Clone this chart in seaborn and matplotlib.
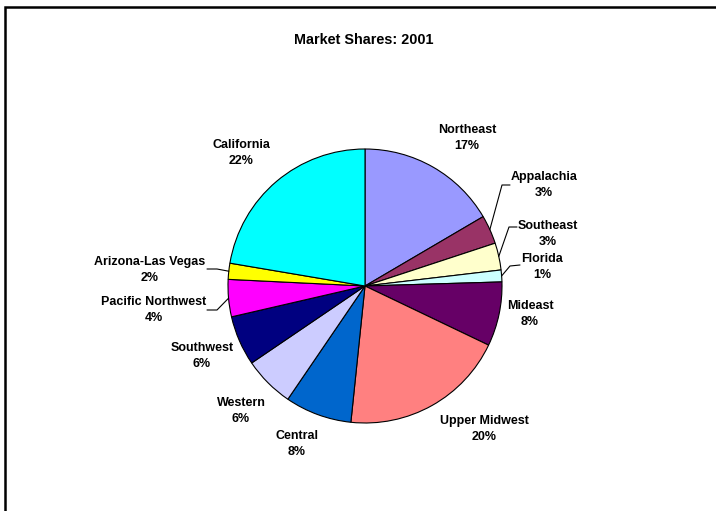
import numpy as np
import matplotlib
matplotlib.use("Agg")
import matplotlib.pyplot as plt
from matplotlib.patches import Rectangle
import seaborn as sns

sns.set_style("white")
plt.rcParams["font.family"] = ["Liberation Sans", "DejaVu Sans"]
plt.rcParams["text.color"] = "black"

regions = ["Northeast", "Appalachia", "Southeast", "Florida", "Mideast",
           "Upper Midwest", "Central", "Western", "Southwest",
           "Pacific Northwest", "Arizona-Las Vegas", "California"]
shares = [16.6, 3.4, 3.2, 1.4, 7.6, 19.6, 7.9, 6.0, 5.9, 4.4, 1.9, 22.4]
colors = ["#9999FF", "#993366", "#FFFFCC", "#CCFFFF", "#660066", "#FF8080",
          "#0066CC", "#CCCCFF", "#000080", "#FF00FF", "#FFFF00", "#00FFFF"]

W, H = 716, 511
# label block centres in pixel coords (layout only)
label_pos = {
    "Northeast": (467, 138), "Appalachia": (544, 185), "Southeast": (548, 234),
    "Florida": (542, 267), "Mideast": (530, 314), "Upper Midwest": (484, 429),
    "Central": (297, 444), "Western": (241, 411), "Southwest": (202, 356),
    "Pacific Northwest": (154, 310), "Arizona-Las Vegas": (150, 270),
    "California": (241, 153),
}
# leader lines: elbow and end points in pixel coords
leaders = {
    "Appalachia": [(502, 185), (510, 185)],
    "Southeast": [(509, 227), (517, 227)],
    "Florida": [(510, 266), (520, 265)],
    "Arizona-Las Vegas": [(217, 269), (207, 269)],
    "Pacific Northwest": [(217, 310), (207, 310)],
}

fig = plt.figure(figsize=(W / 100, H / 100), dpi=100)
ax = fig.add_axes([0, 0, 1, 1])
cx, cy, r = 365, H - 286, 137
wedges, _ = ax.pie(shares, colors=colors, startangle=90, counterclock=False,
                   center=(cx, cy), radius=r,
                   wedgeprops=dict(edgecolor="black", linewidth=0.8))
ax.set_xlim(0, W)
ax.set_ylim(0, H)
ax.set_aspect("auto")
ax.axis("off")

total = sum(shares)
for w, name, val in zip(wedges, regions, shares):
    x, y = label_pos[name]
    ax.text(x, H - y, f"{name}\n{val / total * 100:.0f}%", ha="center", va="center",
            fontsize=9, fontweight="bold", linespacing=1.35, color="black")
    if name in leaders:
        mid = np.deg2rad((w.theta1 + w.theta2) / 2)
        pts = [(cx + r * np.cos(mid), cy + r * np.sin(mid))]
        pts += [(px, H - py) for px, py in leaders[name]]
        xs, ys = zip(*pts)
        ax.plot(xs, ys, color="black", linewidth=0.8)

ax.text(364, H - 40, "Market Shares: 2001", ha="center", va="center",
        fontsize=10.4, fontweight="bold", color="black")

fig.add_artist(Rectangle((4.5 / W, -0.1), 1.2, (H - 7.5) / H + 0.1,
                         transform=fig.transFigure, fill=False,
                         edgecolor="black", linewidth=1.8, clip_on=False))

plt.savefig("out.png", dpi=100)
